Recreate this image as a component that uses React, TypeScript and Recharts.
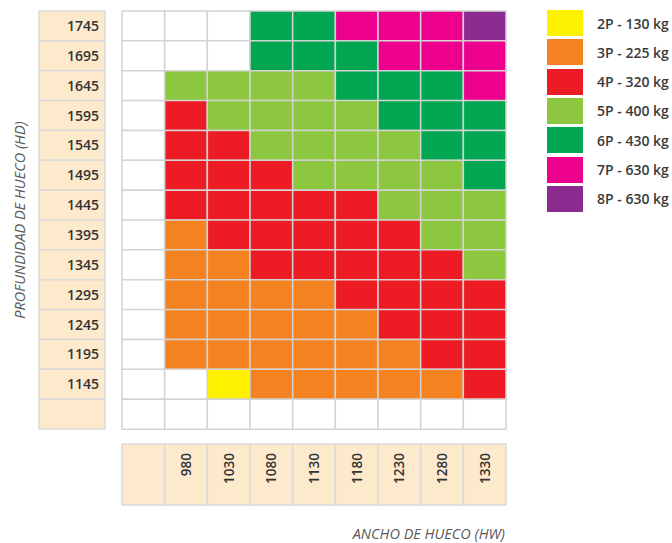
import { BarChart, Bar, XAxis, YAxis, Cell, Legend } from "recharts";

// hole depth (HD), top to bottom; last row is an empty spacer row
const rowLabels = ["1745", "1695", "1645", "1595", "1545", "1495", "1445", "1395", "1345", "1295", "1245", "1195", "1145", ""];
// hole width (HW); first column is an empty spacer column
const colLabels = ["", "980", "1030", "1080", "1130", "1180", "1230", "1280", "1330"];

// passengers per cell (0 = not available)
const capacity = [
  [0, 0, 0, 6, 6, 7, 7, 7, 8],
  [0, 0, 0, 6, 6, 6, 7, 7, 7],
  [0, 5, 5, 5, 5, 6, 6, 6, 7],
  [0, 4, 5, 5, 5, 5, 6, 6, 6],
  [0, 4, 4, 5, 5, 5, 5, 6, 6],
  [0, 4, 4, 4, 5, 5, 5, 5, 6],
  [0, 4, 4, 4, 4, 4, 5, 5, 5],
  [0, 3, 4, 4, 4, 4, 4, 5, 5],
  [0, 3, 3, 4, 4, 4, 4, 4, 5],
  [0, 3, 3, 3, 3, 4, 4, 4, 4],
  [0, 3, 3, 3, 3, 3, 4, 4, 4],
  [0, 3, 3, 3, 3, 3, 3, 4, 4],
  [0, 0, 2, 3, 3, 3, 3, 3, 4],
  [0, 0, 0, 0, 0, 0, 0, 0, 0],
];

const legendCodes = [2, 3, 4, 5, 6, 7, 8];
const legendLabels = ["2P - 130 kg", "3P - 225 kg", "4P - 320 kg", "5P - 400 kg", "6P - 430 kg", "7P - 630 kg", "8P - 630 kg"];

const COLORS: Record<number, string> = {
  0: "#ffffff",
  2: "#fff200",
  3: "#f58220",
  4: "#ed1c24",
  5: "#8dc63f",
  6: "#00a651",
  7: "#ec008c",
  8: "#8b2a8f",
};

const W = 672;
const H = 543;
const MARGIN = { top: 11, right: 166, bottom: 0, left: 0 };
const Y_W = 122;
const X_H = 114;
const ROW_H = (H - MARGIN.top - X_H) / rowLabels.length;
const COL_W = (W - MARGIN.right - Y_W) / colLabels.length;
const PEACH = "#fdeacd";
const LINE = "#d3d3d3";
const FONT = "'Open Sans', sans-serif";

const data = rowLabels.map((row) => {
  const d: Record<string, string | number> = { row };
  colLabels.forEach((_, c) => {
    d[`c${c}`] = 1;
  });
  return d;
});

const RowTick = ({ x, y, payload }: any) => (
  <g>
    <rect x={x - 83} y={y - ROW_H / 2} width={66} height={ROW_H} fill={PEACH} stroke="#dadada" strokeWidth={1.5} />
    <text x={x - 23} y={y} dy={5} textAnchor="end" fontSize={14} fontWeight={600} fill="#333" fontFamily={FONT}>
      {payload.value}
    </text>
  </g>
);

const ColTick = ({ x, y, payload }: any) => {
  const label = colLabels[Math.floor(payload.value)];
  const tx = x + 5;
  const ty = y + 24;
  return (
    <g>
      <rect x={x - COL_W / 2} y={y + 15} width={COL_W} height={61} fill={PEACH} stroke="#dadada" strokeWidth={1.5} />
      <text
        x={tx}
        y={ty}
        transform={`rotate(-90, ${tx}, ${ty})`}
        textAnchor="end"
        fontSize={13.5}
        fontWeight={600}
        fill="#333"
        fontFamily={FONT}
      >
        {label}
      </text>
    </g>
  );
};

const YTitle = (props: any) => {
  const vb = props.viewBox || { x: 0, y: MARGIN.top, width: Y_W, height: H - MARGIN.top - X_H };
  const tx = vb.x + 25;
  const ty = vb.y + vb.height / 2;
  return (
    <text x={tx} y={ty} transform={`rotate(-90, ${tx}, ${ty})`} textAnchor="middle" fontSize={14.5} fontStyle="italic" fill="#5a5a5a" fontFamily={FONT}>
      PROFUNDIDAD DE HUECO (HD)
    </text>
  );
};

const XTitle = (props: any) => {
  const vb = props.viewBox || { x: Y_W, y: H - X_H, width: W - MARGIN.right - Y_W, height: X_H };
  return (
    <text x={vb.x + vb.width - 1} y={vb.y + 110} textAnchor="end" fontSize={14.5} fontStyle="italic" fill="#5a5a5a" fontFamily={FONT}>
      ANCHO DE HUECO (HW)
    </text>
  );
};

const CapacityLegend = () => (
  <div style={{ fontFamily: FONT }}>
    {legendCodes.map((code, i) => (
      <div key={code} style={{ display: "flex", alignItems: "center", height: 26, marginBottom: 3.33 }}>
        <div style={{ width: 36, height: 26, background: COLORS[code] }} />
        <span style={{ marginLeft: 14, fontSize: 14, fontWeight: 600, color: "#3a3a3a", whiteSpace: "nowrap" }}>
          {legendLabels[i]}
        </span>
      </div>
    ))}
  </div>
);

export default function App() {
  return (
    <div style={{ position: "absolute", left: 0, top: 0, width: W, height: H, overflow: "hidden", background: "#fff" }}>
      <BarChart width={W} height={H} data={data} layout="vertical" margin={MARGIN} barCategoryGap={0} barGap={0}>
        <XAxis
          type="number"
          domain={[0, colLabels.length]}
          ticks={colLabels.map((_, i) => i + 0.5)}
          height={X_H}
          axisLine={false}
          tickLine={false}
          tickSize={0}
          tickMargin={0}
          interval={0}
          tick={<ColTick />}
          label={(p: any) => <XTitle {...p} />}
        />
        <YAxis
          type="category"
          dataKey="row"
          width={Y_W}
          axisLine={false}
          tickLine={false}
          tickSize={0}
          tickMargin={0}
          interval={0}
          tick={<RowTick />}
          label={(p: any) => <YTitle {...p} />}
        />
        <Legend
          layout="horizontal"
          align="center"
          verticalAlign="middle"
          content={<CapacityLegend />}
          wrapperStyle={{ position: "absolute", left: 547, top: 10, width: 125, height: 210 }}
        />
        {colLabels.map((_, c) => (
          <Bar key={c} dataKey={`c${c}`} stackId="grid" stroke={LINE} strokeWidth={1.5} isAnimationActive={false}>
            {rowLabels.map((_, r) => (
              <Cell key={r} fill={COLORS[capacity[r][c]]} />
            ))}
          </Bar>
        ))}
      </BarChart>
    </div>
  );
}
